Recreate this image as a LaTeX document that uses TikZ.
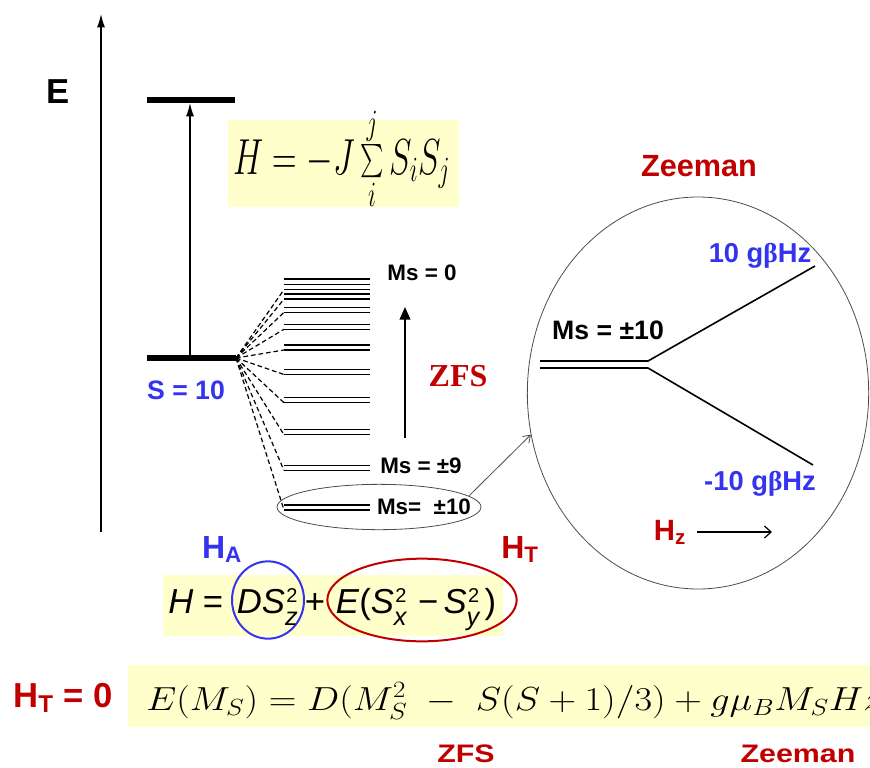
\RequirePackage{fix-cm}
\documentclass[tikz,border=0pt]{standalone}
\usepackage{amsmath}
\usepackage[no-math]{fontspec}
\setmainfont{Liberation Sans}
\newfontfamily\serifbf{Liberation Serif}
\usepackage{graphicx}
\usetikzlibrary{arrows.meta,positioning,shapes.geometric}
\definecolor{zred}{HTML}{C00000}
\definecolor{zblue}{HTML}{3333F0}
\definecolor{hlyellow}{HTML}{FFFFCC}
\newcommand{\fsz}[1]{\fontsize{#1}{#1}\selectfont}
\newcommand{\Ssq}[1]{\textit{S}\rlap{\kern1pt\raisebox{0.31em}{\fsz{15}2}}\raisebox{-0.37em}{\fsz{19}\textit{#1}}\kern1pt}

\begin{document}
\begin{tikzpicture}[x=0.75pt,y=-0.75pt, every node/.style={inner sep=0pt,font=\bfseries},
 heavy/.style={line width=4.6pt},
 sublvl/.style={line width=1.1pt,draw=black},
 fan/.style={line width=0.9pt,dash pattern=on 3.5pt off 2.2pt},
 axarr/.style={-{Latex[length=10pt,width=6pt]},line width=1pt},
 thinline/.style={draw=black!70,line width=0.6pt},
 zline/.style={line width=1.2pt},
 hl/.style={fill=hlyellow},
 msl/.style={font=\bfseries\fsz{16.8}},
 redl/.style={text=zred,font=\bfseries\fsz{23}},
 bluel/.style={text=zblue,font=\bfseries\fsz{20.5}},
 wide/.style={font=\bfseries\fsz{19}}]
\useasboundingbox (0,0) rectangle (870,767);

% energy axis
\coordinate (ebot) at (101,532);
\coordinate (etop) at (101,14);
\draw[axarr] (ebot) -- (etop);
\node[font=\bfseries\fsz{26}] (elab) at (58,92) {E};

% exchange levels
\coordinate (topL) at (147,100); \coordinate (topR) at (235,100);
\coordinate (s10L) at (147,358); \coordinate (s10) at (236,358);
\draw[heavy] (topL) -- (topR);
\draw[heavy] (s10L) -- (s10);
\coordinate (xbot) at (190,356); \coordinate (xtop) at (190,103);
\draw[axarr] (xbot) -- (xtop);
\node[bluel,font=\bfseries\fsz{20}] (slab) at (186,390) {S = 10};

\node[hl,minimum width=173.25pt,minimum height=65.25pt] (heis) at (343.5,163.5) {};
\node[anchor=base west,font=\mdseries\fsz{38}] (heq) at (233,174)
  {\scalebox{0.67}[1]{$H=-J\sum\limits_{i}^{j}S_{i}S_{j}$}};

% zero-field levels
\coordinate (lvl0) at (284,279);
\draw[sublvl] (lvl0) -- ++(86,0);
\foreach \m in {1,...,10}{
  \pgfmathsetmacro\yy{279+3.8*\m+1.88*\m*\m}
  \coordinate (lvl\m) at (284,\yy);
  \coordinate (low\m) at (284,\yy+5);
  \draw[sublvl] (lvl\m) -- ++(86,0);
  \draw[sublvl] (low\m) -- ++(86,0);
  \draw[fan] (s10) -- (low\m);
}
\node[msl] (ms0) at (422,273) {Ms = 0};
\node[msl] (ms9) at (421,466) {Ms = ±9};
\node[msl] (ms10) at (424,507) {Ms=~~±10};
\node[ellipse,thinline,draw,minimum width=153pt,minimum height=34pt] (ell) at (379,507) {};

\coordinate (zfsbot) at (405,438); \coordinate (zfstop) at (405,307);
\draw[-{Triangle[length=9.5pt,width=8pt]},line width=1.5pt] (zfsbot) -- (zfstop);
\node[text=zred,font=\serifbf\bfseries\fsz{24}] (zfs) at (458,376) {ZFS};

% Zeeman splitting
\node[redl,anchor=base] (zee) at (699,176) {Zeeman};
\node[ellipse,thinline,draw,minimum width=256pt,minimum height=294pt] (zoom) at (698,393) {};
\draw[thinline,-{Straight Barb[length=5pt,width=7pt]}] (ell.7) -- (zoom.194);
\coordinate (dl) at (540,361); \coordinate (dr) at (648,361);
\coordinate (dl2) at (540,368); \coordinate (dr2) at (648,368);
\coordinate (plus) at (815,266); \coordinate (minus) at (813,465);
\draw[zline] (dl) -- (dr) -- (plus);
\draw[zline] (dl2) -- (dr2) -- (minus);
\node[msl,font=\bfseries\fsz{20}] (ms10z) at (608,330) {Ms = ±10};
\node[bluel,anchor=base] (pz) at (760,262) {10 g{\serifbf β}Hz};
\node[bluel,anchor=base] (mz) at (760,490) {-10 g{\serifbf β}Hz};
\node[redl,font=\bfseries\fsz{22},anchor=base] (hz) at (670,540) {H\textsubscript{z}};
\coordinate (hzl) at (697,532); \coordinate (hzr) at (772,532);
\draw[line width=0.9pt,-{Straight Barb[length=5pt,width=9pt]}] (hzl) -- (hzr);

% spin Hamiltonian
\node[hl,anchor=north west,minimum width=255pt,minimum height=45.75pt] (hbox) at (163,575) {};
\node[anchor=base west,font=\mdseries\fsz{26}] (hlhs) at (168,613) {\textit{H} =};
\node[ellipse,draw=zblue,line width=1.5pt,minimum width=54pt,minimum height=58pt] (ha) at (268,600) {};
\node[anchor=base,font=\mdseries\fsz{26}] (dsz) at (268,613) {\textit{D}\Ssq{z}};
\node[anchor=base,font=\mdseries\fsz{26}] (hplus) at (315,613) {+};
\node[ellipse,draw=zred,line width=1.5pt,minimum width=142pt,minimum height=62pt] (ht) at (422,600) {};
\node[anchor=base,font=\mdseries\fsz{26}] (exy) at (416,613)
  {\textit{E}(\Ssq{x}\hspace{7pt}−\hspace{4pt}\Ssq{y}\hspace{2pt})};
\node[text=zblue,font=\bfseries\fsz{24},anchor=base] (halab) at (222,558) {H\textsubscript{A}};
\node[text=zred,font=\bfseries\fsz{24},anchor=base] (htlab) at (520,558) {H\textsubscript{T}};

% energy of the Ms levels
\node[hl,anchor=north west,minimum width=600pt,minimum height=46.5pt] (ebox) at (128,665) {};
\node[text=zred,font=\bfseries\fsz{26},anchor=base west] (ht0) at (13,707) {H\textsubscript{T} = 0};
\node[anchor=base west,font=\mdseries\fsz{25}] (eform) at (146,710)
  {\scalebox{1.15}[1]{$E(M_S) = D(M_S^2 \;-\; S(S+1)/3) + g\mu_B M_S Hz$}};
\node[wide,text=zred,anchor=base] (zfsb) at (466,762) {\scalebox{1.2}[1]{ZFS}};
\node[wide,text=zred,anchor=base] (zeeb) at (798,762) {\scalebox{1.2}[1]{Zeeman}};
\end{tikzpicture}
\end{document}
